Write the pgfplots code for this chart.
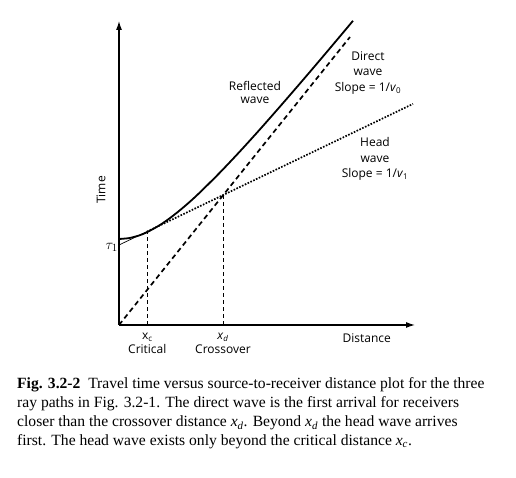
\documentclass[border=0pt]{standalone}
\usepackage{pgfplots}
\pgfplotsset{compat=1.18}
\usepackage{fontspec}
\setmainfont{Liberation Serif}
\newfontfamily\lab{Open Sans}
\usetikzlibrary{arrows.meta}
\begin{document}
\begin{tikzpicture}[x=1pt,y=1pt]
\path[use as bounding box] (-119,-153) rectangle (397,325);
\begin{axis}[anchor=origin, at={(0,0)}, x=1pt, y=1pt,
  xmin=0, xmax=296, ymin=0, ymax=304,
  axis lines=left,
  axis line style={line width=1.2pt, -{Latex[length=9pt,width=6pt]}},
  xtick=\empty, ytick=\empty, clip=false,
  font=\lab\fontsize{12}{14}\selectfont]
% reflected wave
\addplot[black, line width=1.8pt, smooth] coordinates {
(0,86) (10,86.9) (20,89.5) (28,92.8) (40,99.4) (50,106.2) (60,114.0) (70,122.5)
(80,131.7) (100,151.5) (120,172.6) (140,194.6) (160,217.3) (180,240.4)
(200,263.8) (220,287.5) (234,304.2)};
% direct wave
\addplot[black, line width=1.7pt, dash pattern=on 5pt off 3.5pt] coordinates {(0,0) (231,288)};
% head wave (thin pre-critical part)
\addplot[black, line width=0.7pt] coordinates {(0,80) (28,93.4)};
\addplot[black, line width=1.7pt, dash pattern=on 1.6pt off 1.5pt] coordinates {(28,93.4) (294,221.1)};
% verticals
\addplot[black, line width=1pt, dash pattern=on 4pt off 3pt] coordinates {(28,0) (28,93.4)};
\addplot[black, line width=1pt, dash pattern=on 4pt off 3pt] coordinates {(104,0) (104,130)};
% labels
\node[rotate=90] at (axis cs:-18,135) {Time};
\node[anchor=east, inner sep=0pt, font=\fontsize{15}{17}\selectfont] at (axis cs:-1,77.5) {$\tau_1$};
\node[anchor=base] at (axis cs:136,234.3) {Reflected};
\node[anchor=base] at (axis cs:136,221) {wave};
\node[anchor=base] at (axis cs:249,264) {Direct};
\node[anchor=base] at (axis cs:249,249) {wave};
\node[anchor=base] at (axis cs:249,233.3) {Slope = 1/\textit{v}\textsubscript{0}};
\node[anchor=base] at (axis cs:256,178.3) {Head};
\node[anchor=base] at (axis cs:256,162.7) {wave};
\node[anchor=base] at (axis cs:256,147.7) {Slope = 1/\textit{v}\textsubscript{1}};
\node[anchor=base] at (axis cs:28.3,-15) {x\textsubscript{c}};
\node[anchor=base] at (axis cs:28.3,-28.3) {Critical};
\node[anchor=base] at (axis cs:104,-15) {\textit{x}\textsubscript{\textit{d}}};
\node[anchor=base] at (axis cs:104,-28.3) {Crossover};
\node[anchor=base] at (axis cs:247.7,-17.7) {Distance};
\end{axis}
\begin{scope}[every node/.style={anchor=base west, inner sep=0pt, font=\fontsize{15.6}{19}\selectfont}]
\node at (-102,-63.3) {\textbf{Fig. 3.2-2}\enspace Travel time versus source-to-receiver distance plot for the three};
\node at (-102,-82.7) {ray paths in Fig. 3.2-1. The direct wave is the first arrival for receivers};
\node at (-102,-101.7) {closer than the crossover distance \textit{x}\textsubscript{\textit{d}}. Beyond \textit{x}\textsubscript{\textit{d}} the head wave arrives};
\node at (-102,-120.7) {first. The head wave exists only beyond the critical distance \textit{x}\textsubscript{\textit{c}}.};
\end{scope}
\end{tikzpicture}
\end{document}
